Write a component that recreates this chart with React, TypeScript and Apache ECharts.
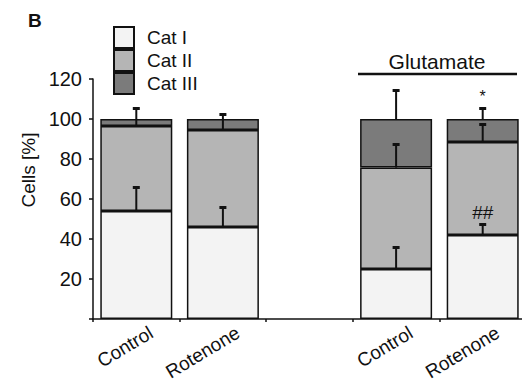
import React, { useEffect, useRef } from "react";
import * as echarts from "echarts";

const categories = ["Control", "Rotenone", "", "Control", "Rotenone"];
const catI = [54, 46, null, 25, 42];
const catII = [42.5, 48.5, null, 50.7, 46.5];
const catIII = [3.5, 5.5, null, 24.3, 11.5];
const errI = [66, 56, null, 36, 47.5];
const errII = [105.5, 102.5, null, 87.5, 97.5];
const errIII = [null, null, null, 114.5, 105.5];
const noteI = ["", "", "", "", "##"];
const noteIII = ["", "", "", "", "*"];
const yTicks = [0, 20, 40, 60, 80, 100, 120];

const FONT = "Liberation Sans, Arial, sans-serif";

export default function App() {
  const ref = useRef<HTMLDivElement>(null);
  useEffect(() => {
    if (!ref.current) return;
    const chart = echarts.init(ref.current, null, { renderer: "svg" });

    const errData: any[] = [];
    categories.forEach((_, i) => {
      const t1 = catI[i];
      const t2 = t1 != null && catII[i] != null ? t1 + (catII[i] as number) : null;
      const t3 = t2 != null && catIII[i] != null ? t2 + (catIII[i] as number) : null;
      if (t1 != null && errI[i] != null) errData.push([i, t1, errI[i], noteI[i]]);
      if (t2 != null && errII[i] != null) errData.push([i, t2, errII[i], ""]);
      if (t3 != null && errIII[i] != null) errData.push([i, t3, errIII[i], noteIII[i]]);
    });

    const barStyle = (color: string) => ({
      color,
      borderColor: "#111",
      borderWidth: 1.5,
    });

    const staticGraphics: any[] = [
      {
        type: "text",
        left: 28,
        top: 11,
        style: { text: "B", fontSize: 19, fontWeight: "bold", fontFamily: FONT, fill: "#111" },
      },
      {
        type: "text",
        x: 28,
        y: 170,
        rotation: Math.PI / 2,
        style: {
          text: "Cells [%]",
          fontSize: 19,
          fontFamily: FONT,
          fill: "#111",
          align: "center",
          verticalAlign: "middle",
        },
      },
      {
        type: "text",
        x: 437,
        y: 61,
        style: {
          text: "Glutamate",
          fontSize: 21,
          fontFamily: FONT,
          fill: "#111",
          align: "center",
          verticalAlign: "middle",
        },
      },
      {
        type: "line",
        shape: { x1: 358, y1: 74, x2: 517, y2: 74 },
        style: { stroke: "#111", lineWidth: 2.5 },
      },
    ];

    chart.setOption({
      animation: false,
      textStyle: { fontFamily: FONT },
      grid: {
        left: 93,
        right: 4,
        top: 79,
        bottom: 68,
        containLabel: false,
        outerBoundsMode: "none",
      },
      legend: {
        orient: "vertical",
        left: 108,
        top: 21,
        itemWidth: 20,
        itemHeight: 21,
        itemGap: 0,
        selectedMode: false,
        icon: "rect",
        textStyle: {
          fontSize: 19,
          color: "#111",
          fontFamily: FONT,
          padding: [0, 0, 0, 8],
          lineHeight: 21,
        },
        data: ["Cat I", "Cat II", "Cat III"],
      },
      xAxis: {
        type: "category",
        data: categories,
        axisLine: { lineStyle: { color: "#111", width: 1.5 } },
        axisTick: { show: true, length: 3, lineStyle: { color: "#111", width: 1.5 } },
        axisLabel: { show: false },
      },
      yAxis: {
        type: "value",
        min: 0,
        max: 120,
        interval: 20,
        splitLine: { show: false },
        axisLine: { show: true, lineStyle: { color: "#111", width: 1.5 } },
        axisTick: { show: true, length: 4, lineStyle: { color: "#111", width: 1.5 } },
        axisLabel: {
          fontSize: 20,
          color: "#111",
          margin: 11,
          fontFamily: FONT,
          formatter: (v: number) => (v === 0 || !yTicks.includes(v) ? "" : String(v)),
        },
      },
      series: [
        { name: "Cat I", type: "bar", stack: "s", data: catI, barWidth: 72, itemStyle: barStyle("#f3f3f3") },
        { name: "Cat II", type: "bar", stack: "s", data: catII, barWidth: 72, itemStyle: barStyle("#b5b5b5") },
        { name: "Cat III", type: "bar", stack: "s", data: catIII, barWidth: 72, itemStyle: barStyle("#7b7b7b") },
        {
          type: "custom",
          name: "err",
          data: errData,
          z: 10,
          renderItem: (params: any, api: any) => {
            const x = api.value(0);
            const base = api.coord([x, api.value(1)]);
            const top = api.coord([x, api.value(2)]);
            const note = errData[params.dataIndex][3];
            const children: any[] = [
              {
                type: "line",
                shape: { x1: base[0], y1: base[1], x2: top[0], y2: top[1] },
                style: { stroke: "#111", lineWidth: 2 },
              },
              {
                type: "rect",
                shape: { x: top[0] - 3.5, y: top[1] - 1, width: 7, height: 3 },
                style: { fill: "#111" },
              },
            ];
            if (note) {
              children.push({
                type: "text",
                style: {
                  text: note,
                  x: top[0],
                  y: note === "*" ? top[1] - 4 : top[1] - 2,
                  align: "center",
                  verticalAlign: "bottom",
                  fontSize: note === "*" ? 16 : 19,
                  fontFamily: FONT,
                  fill: "#111",
                },
              });
            }
            return { type: "group", children };
          },
        },
      ],
      graphic: staticGraphics,
    });

    const labelGraphics: any[] = [];
    categories.forEach((name, i) => {
      if (!name) return;
      const p = chart.convertToPixel({ gridIndex: 0 }, [i, 0]) as number[];
      labelGraphics.push({
        type: "text",
        x: p[0] + 15,
        y: p[1] + 12,
        rotation: (31 * Math.PI) / 180,
        style: {
          text: name,
          fontSize: 19,
          fontFamily: FONT,
          fill: "#111",
          align: "right",
          verticalAlign: "middle",
        },
      });
    });
    chart.setOption({ graphic: [...staticGraphics, ...labelGraphics] });

    return () => chart.dispose();
  }, []);
  return <div ref={ref} style={{ width: 530, height: 387, margin: -8 }} />;
}
